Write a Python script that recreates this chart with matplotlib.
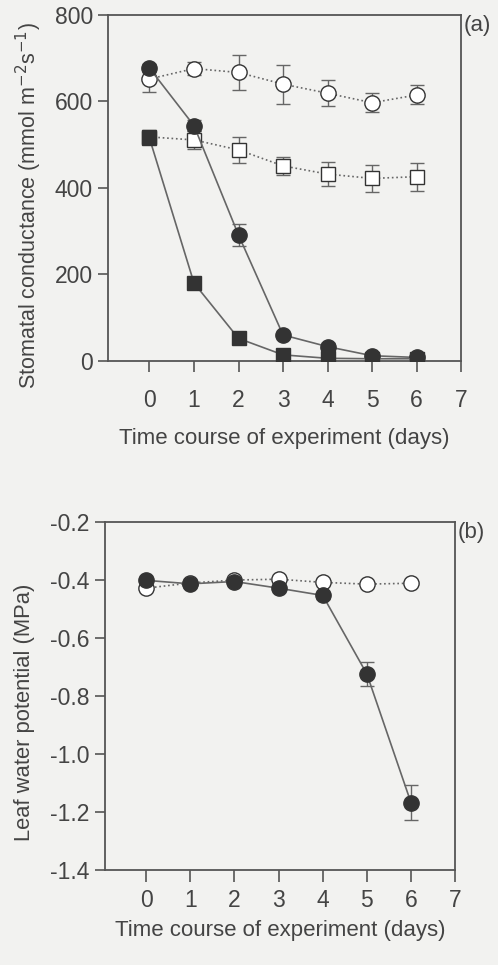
import matplotlib
matplotlib.use("Agg")
import matplotlib.pyplot as plt
import numpy as np

plt.rcParams['font.family'] = ['Liberation Sans', 'DejaVu Sans']

days = [0, 1, 2, 3, 4, 5, 6]
x_ticks = [0, 1, 2, 3, 4, 5, 6, 7]

# Panel (a) stomatal conductance
gs_open_circle = [652, 676, 667, 640, 619, 597, 615]
gs_open_circle_err = [30, 15, 40, 45, 30, 22, 22]
gs_filled_circle = [677, 544, 291, 60, 33, 12, 8]
gs_filled_circle_err = [10, 12, 25, 8, 8, 5, 5]
gs_open_square = [518, 511, 488, 451, 432, 422, 426]
gs_open_square_err = [15, 20, 30, 20, 28, 32, 32]
gs_filled_square = [515, 180, 52, 14, 6, 5, 5]
gs_filled_square_err = [12, 12, 8, 5, 3, 3, 3]

# Panel (b) leaf water potential
lwp_open_circle = [-0.428, -0.410, -0.400, -0.397, -0.408, -0.414, -0.411]
lwp_filled_circle = [-0.401, -0.413, -0.405, -0.428, -0.453, -0.724, -1.168]
lwp_filled_circle_err = [0.01, 0.01, 0.01, 0.01, 0.012, 0.042, 0.06]

bg = '#f2f2f0'
fc = '#333333'
lc = '#666666'
tc = '#444444'

fig = plt.figure(figsize=(4.98, 9.65), dpi=100, facecolor=bg)
axa = fig.add_axes([0.217, 0.626, 0.709, 0.3585], facecolor=bg)
axb = fig.add_axes([0.211, 0.0984, 0.703, 0.3606], facecolor=bg)

msc = 11
mss = 10
ekw = dict(capsize=5, elinewidth=1.0, capthick=1.0, ecolor=lc)

axa.errorbar(days, gs_open_circle, yerr=gs_open_circle_err, fmt='o', ls=':', color=lc,
             mfc='white', mec=fc, ms=msc, lw=1.2, zorder=3, **ekw)
axa.errorbar(days, gs_open_square, yerr=gs_open_square_err, fmt='s', ls=':', color=lc,
             mfc='white', mec=fc, ms=mss, lw=1.2, zorder=3, **ekw)
axa.errorbar(days, gs_filled_circle, yerr=gs_filled_circle_err, fmt='o', ls='-', color=lc,
             mfc=fc, mec=fc, ms=msc, lw=1.2, zorder=4, **ekw)
axa.errorbar(days, gs_filled_square, yerr=gs_filled_square_err, fmt='s', ls='-', color=lc,
             mfc=fc, mec=fc, ms=mss, lw=1.2, zorder=4, **ekw)

axa.set_xlim(-0.93, 7)
axa.set_ylim(0, 800)
axa.set_yticks([0, 200, 400, 600, 800])
axa.set_xticks(x_ticks)
axa.set_ylabel('Stomatal conductance (mmol m$^{-2}$s$^{-1}$)', fontsize=15.5, color=tc)
axa.yaxis.set_label_coords(-0.181, 0.448)
axa.set_xlabel('Time course of experiment (days)', fontsize=16, color=tc, labelpad=12)
axa.text(1.008, 1.0, '(a)', transform=axa.transAxes, fontsize=16, color=tc, va='top', ha='left')

axb.errorbar(days, lwp_open_circle, fmt='o', ls=':', color=lc,
             mfc='white', mec=fc, ms=msc, lw=1.2, zorder=3)
axb.errorbar(days, lwp_filled_circle, yerr=lwp_filled_circle_err, fmt='o', ls='-', color=lc,
             mfc=fc, mec=fc, ms=msc, lw=1.2, zorder=4, **ekw)
axb.set_xlim(-0.93, 7)
axb.set_ylim(-1.4, -0.2)
axb.set_yticks([-1.4, -1.2, -1.0, -0.8, -0.6, -0.4, -0.2])
axb.set_yticklabels(['-1.4', '-1.2', '-1.0', '-0.8', '-0.6', '-0.4', '-0.2'])
axb.set_xticks(x_ticks)
axb.set_ylabel('Leaf water potential (MPa)', fontsize=15.8, color=tc)
axb.yaxis.set_label_coords(-0.2, 0.454)
axb.set_xlabel('Time course of experiment (days)', fontsize=16, color=tc, labelpad=6)
axb.text(1.008, 1.0, '(b)', transform=axb.transAxes, fontsize=16, color=tc, va='top', ha='left')

for ax in (axa, axb):
    for s in ax.spines.values():
        s.set_color('#555555')
        s.set_linewidth(1.3)
    ax.tick_params(axis='both', colors='#555555', labelcolor=tc, labelsize=16.5,
                   direction='out', width=1.2)
    ax.tick_params(axis='y', length=7, pad=4)
axa.tick_params(axis='x', length=8, pad=12)
axb.tick_params(axis='x', length=8.5, pad=5)

fig.savefig('out.png', dpi=100, facecolor=bg)
